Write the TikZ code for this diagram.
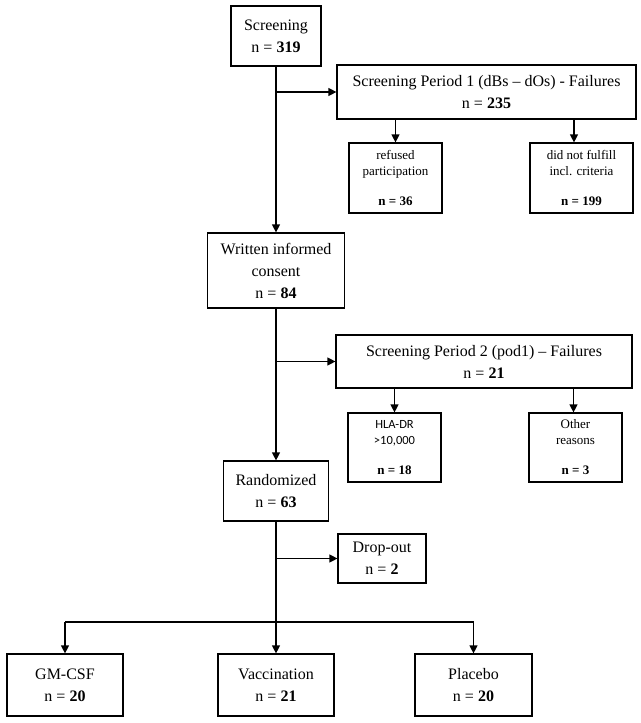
\documentclass[tikz,border=0pt]{standalone}
\usepackage{fontspec}
\setmainfont{Liberation Serif}
\newfontfamily\hlafont{Carlito}
\usetikzlibrary{arrows.meta}
\begin{document}
\begin{tikzpicture}[x=1pt,y=-1pt,
  box/.style={draw, line width=1.2pt, inner sep=0pt, align=center,
    font=\fontsize{16}{22}\selectfont},
  smallbox/.style={box, font=\fontsize{13}{16}\selectfont},
  arr/.style={line width=1.2pt, -{Triangle[length=8pt,width=8pt]}},
  ln/.style={line width=1.2pt}]
\useasboundingbox[fill=white] (0,0) rectangle (640,723);

\node[box, minimum width=90pt, minimum height=60pt] (scr) at (276,36)
  {Screening\\n = \textbf{319}};
\node[box, minimum width=299pt, minimum height=54pt] (sp1) at (486.5,92)
  {Screening Period 1 (dBs – dOs) - Failures\\n = \textbf{235}};
\node[smallbox, minimum width=93pt, minimum height=70pt] (ref) at (395.5,178)
  {refused\\participation\\[14pt]\textbf{n = 36}};
\node[smallbox, minimum width=103pt, minimum height=70pt] (dnf) at (581.5,178)
  {did not fulfill\\incl. criteria\\[14pt]\textbf{n = 199}};
\node[box, minimum width=137pt, minimum height=75pt] (wic) at (276,270.5)
  {Written informed\\consent\\n = \textbf{84}};
\node[box, minimum width=296pt, minimum height=53pt] (sp2) at (484,361.5)
  {Screening Period 2 (pod1) – Failures\\n = \textbf{21}};
\node[smallbox, minimum width=93pt, minimum height=69pt] (hla) at (394.5,447.5)
  {\hlafont\fontsize{12.5}{15}\selectfont HLA-DR\\\hlafont\fontsize{12.5}{15}\selectfont >10,000\\[14pt]\textbf{n = 18}};
\node[smallbox, minimum width=93pt, minimum height=69pt] (oth) at (575.5,447.5)
  {Other\\reasons\\[14pt]\textbf{n = 3}};
\node[box, minimum width=105pt, minimum height=60pt] (rnd) at (276,491)
  {Randomized\\n = \textbf{63}};
\node[box, minimum width=88pt, minimum height=49pt] (drp) at (382,558.5)
  {Drop-out\\n = \textbf{2}};
\node[box, minimum width=116pt, minimum height=62pt] (gm) at (65,685)
  {GM-CSF\\n = \textbf{20}};
\node[box, minimum width=116pt, minimum height=62pt] (vac) at (276,685)
  {Vaccination\\n = \textbf{21}};
\node[box, minimum width=117pt, minimum height=62pt] (pla) at (473.5,685)
  {Placebo\\n = \textbf{20}};

\coordinate (bar) at (276,622);

% spine
\draw[arr] (scr.south) -- (wic.north);
\draw[arr] (wic.south) -- (rnd.north);
\draw[arr] (rnd.south) -- (vac.north);

% side branches
\draw[arr] (scr.south |- sp1.west) -- (sp1.west);
\draw[arr] (wic.south |- sp2.west) -- (sp2.west);
\draw[arr] (rnd.south |- drp.west) -- (drp.west);

% failures
\draw[arr] (ref.north |- sp1.south) -- (ref.north);
\draw[arr] ([xshift=-7.5pt]dnf.north |- sp1.south) -- ([xshift=-7.5pt]dnf.north);
\draw[arr] (hla.north |- sp2.south) -- (hla.north);
\draw[arr] ([xshift=-2pt]oth.north |- sp2.south) -- ([xshift=-2pt]oth.north);

% arms
\draw[ln] (pla.north |- bar) -- (gm.north |- bar);
\draw[arr] (gm.north |- bar) -- (gm.north);
\draw[arr] (pla.north |- bar) -- (pla.north);
\end{tikzpicture}
\end{document}
